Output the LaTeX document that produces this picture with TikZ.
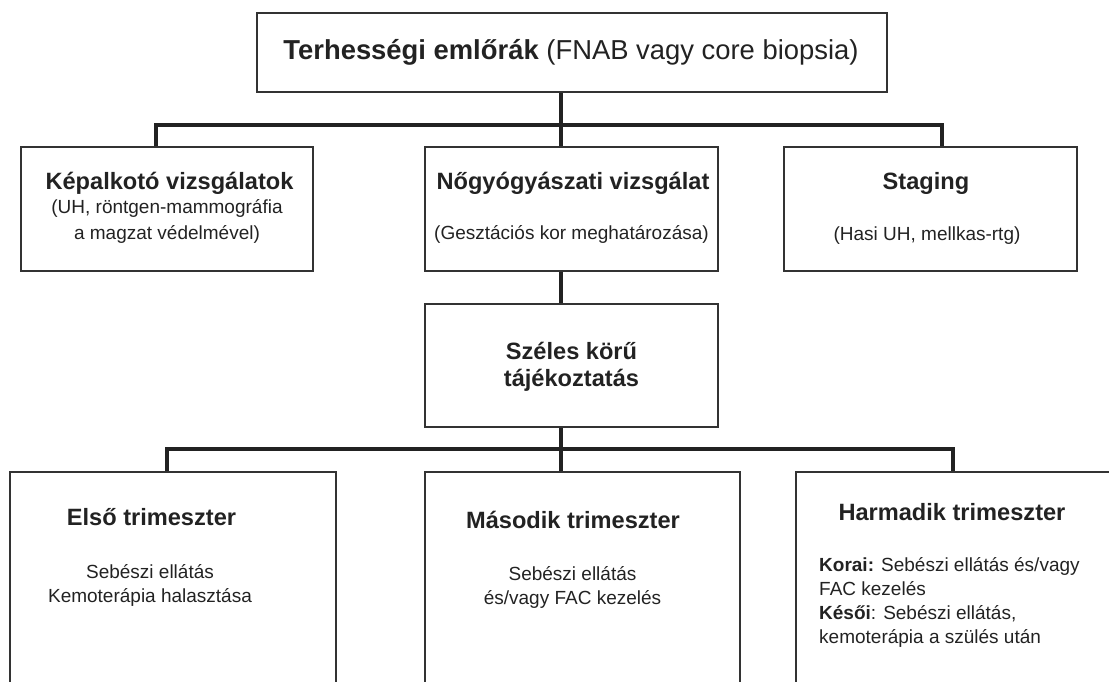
\documentclass[tikz,border=0pt]{standalone}
\usepackage{fontspec}
\setmainfont{Liberation Sans}
\definecolor{inkgray}{RGB}{34,34,34}
\definecolor{framegray}{RGB}{51,51,51}
\begin{document}
\begin{tikzpicture}[x=1pt,y=-1pt,
    box/.style={draw=framegray,line width=2pt,inner sep=0pt},
    conn/.style={draw=inkgray,line width=3.5pt},
    head/.style={font=\fontsize{23.6}{27}\selectfont\bfseries,text=inkgray,inner sep=0pt,align=center,anchor=base},
    sub/.style={font=\fontsize{19}{24}\selectfont,text=inkgray,inner sep=0pt,align=center,anchor=base}]
    %% frame of the page
    \useasboundingbox (0,0) rectangle (1109,681);
    \clip (0,0) rectangle (1109,681);
    %% boxes
    \node[box,minimum width=630pt,minimum height=79pt] (top) at (572,52.5) {};
    \node[box,minimum width=292pt,minimum height=124pt] (kep) at (167,209) {};
    \node[box,minimum width=293pt,minimum height=124pt] (nog) at (571.5,209) {};
    \node[box,minimum width=293pt,minimum height=124pt] (stg) at (930.5,209) {};
    \node[box,minimum width=293pt,minimum height=123pt] (szel) at (571.5,365.5) {};
    \node[box,minimum width=326pt,minimum height=236pt] (elso) at (173,590) {};
    \node[box,minimum width=315pt,minimum height=236pt] (masod) at (582.5,590) {};
    \node[box,minimum width=324pt,minimum height=236pt] (harm) at (958,590) {};
    %% texts (multi-line texts sit on their last baseline)
    \node[sub,font=\fontsize{27.4}{32}\selectfont] (top-t) at (571,59) {\textbf{Terhességi emlőrák} (FNAB vagy core biopsia)};
    \node[head] (kep-h) at (169.5,189) {Képalkotó vizsgálatok};
    \node[sub,font=\fontsize{19}{26}\selectfont] (kep-s) at (167,239) {(UH, röntgen-mammográfia\\a magzat védelmével)};
    \node[head] (nog-h) at (573,189) {Nőgyógyászati vizsgálat};
    \node[sub] (nog-s) at (571.5,239) {(Gesztációs kor meghatározása)};
    \node[head] (stg-h) at (926,189) {Staging};
    \node[sub] (stg-s) at (927,240) {(Hasi UH, mellkas-rtg)};
    \node[head] (szel-t) at (571.5,386) {Széles körű\\tájékoztatás};
    \node[head] (elso-h) at (151.5,525) {Első trimeszter};
    \node[sub] (elso-s) at (150,602) {Sebészi ellátás\\Kemoterápia halasztása};
    \node[head] (masod-h) at (573,528) {Második trimeszter};
    \node[sub,font=\fontsize{19}{23.5}\selectfont] (masod-s) at (572.5,604) {Sebészi ellátás\\és/vagy FAC kezelés};
    \node[head] (harm-h) at (952,520) {Harmadik trimeszter};
    \node[sub,align=left,anchor=base west] (harm-s) at (819,643) {\textbf{Korai:} Sebészi ellátás és/vagy\\FAC kezelés\\\textbf{Késői}: Sebészi ellátás,\\kemoterápia a szülés után};
    %% connectors
    \coordinate (j1) at (561,125);
    \coordinate (l1) at (156,125);
    \coordinate (r1) at (942,125);
    \coordinate (j2) at (561,449);
    \coordinate (l2) at (167,449);
    \coordinate (r2) at (953,449);
    \draw[conn] (top.south -| j1) -- (nog.north -| j1);
    \draw[conn] (kep.north -| l1) |- (r1) -- (stg.north -| r1);
    \draw[conn] (nog.south -| j2) -- (szel.north -| j2);
    \draw[conn] (szel.south -| j2) -- (masod.north -| j2);
    \draw[conn] (elso.north -| l2) |- (r2) -- (harm.north -| r2);
\end{tikzpicture}
\end{document}
